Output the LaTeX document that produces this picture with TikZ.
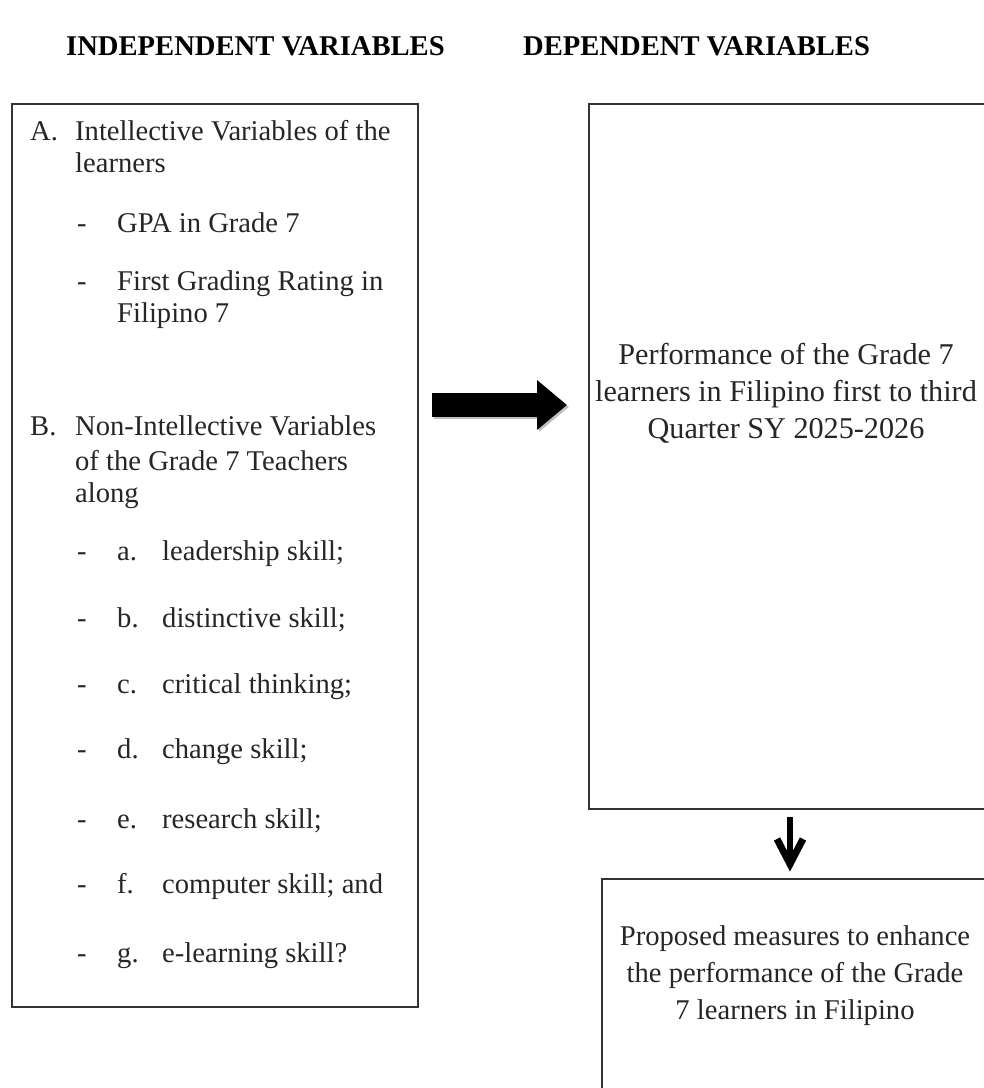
\documentclass[tikz,border=0pt]{standalone}
\usepackage{fontspec}
\setmainfont{Liberation Serif}
\usetikzlibrary{arrows.meta,calc}
\tikzset{
  box/.style={draw=black!80, line width=1.8bp, inner sep=0pt},
  txt/.style={anchor=base west, inner sep=0pt, font=\fontsize{28.6bp}{33bp}\selectfont, text=black!85},
  ctxt/.style={anchor=base, inner sep=0pt, font=\fontsize{28.6bp}{33bp}\selectfont, text=black!85},
  btxt/.style={anchor=base, inner sep=0pt, font=\fontsize{30.2bp}{35bp}\selectfont, text=black!85},
  head/.style={anchor=base west, inner sep=0pt, font=\bfseries\fontsize{28.6bp}{33bp}\selectfont},
  bigarrow/.style={line width=24bp, -{Triangle[length=30bp,width=48bp]}},
  shaft/.style={line width=6bp},
  chevron/.style={line width=7bp, miter limit=10}
}
\begin{document}
\begin{tikzpicture}[x=1bp,y=-1bp]
\clip (0,0) rectangle (984,1088);
\fill[white] (0,0) rectangle (984,1088);
% headers
\node[head] (hI) at (66,55) {INDEPENDENT VARIABLES};
\node[head] (hD) at (523,55) {DEPENDENT VARIABLES};
% boxes
\node[box, minimum width=406bp, minimum height=903bp] (indep) at (215,555.5) {};
\node[box, minimum width=411bp, minimum height=705bp] (perf) at (794.5,456.5) {};
\node[box, minimum width=398bp, minimum height=221bp] (prop) at (801,989.5) {};
% left box text
\node[txt] (Al) at (30,140) {A.};
\node[txt] (A1) at (75,140) {Intellective Variables of the};
\node[txt] (A2) at (75,172) {learners};
\node[txt] (d1) at (77,232) {-};
\node[txt] (g1) at (117,232) {GPA in Grade 7};
\node[txt] (d2) at (77,290) {-};
\node[txt] (g2) at (117,290) {First Grading Rating in};
\node[txt] (g3) at (117,322) {Filipino 7};
\node[txt] (Bl) at (30,435) {B.};
\node[txt] (B1) at (75,435) {Non-Intellective Variables};
\node[txt] (B2) at (75,470) {of the Grade 7 Teachers};
\node[txt] (B3) at (75,502) {along};
\foreach \y/\l/\t [count=\i] in {560/a./leadership skill;, 627/b./distinctive skill;, 693/c./critical thinking;, 758/d./change skill;, 828/e./research skill;, 893/f./computer skill; and, 962/g./e-learning skill?}{
  \node[txt] (bd\i) at (77,\y) {-};
  \node[txt] (bl\i) at (117,\y) {\l};
  \node[txt] (bt\i) at (162,\y) {\t};
}
% right box texts
\node[btxt] (p1) at (786,364) {Performance of the Grade 7};
\node[btxt] (p2) at (786,401) {learners in Filipino first to third};
\node[btxt] (p3) at (786,438) {Quarter SY 2025-2026};
\node[ctxt] (q1) at (795,945) {Proposed measures to enhance};
\node[ctxt] (q2) at (795,982) {the performance of the Grade};
\node[ctxt] (q3) at (795,1019) {7 learners in Filipino};
% big arrow
\coordinate (aS) at (432,405);
\coordinate (aE) at (567,405);
\coordinate (aS2) at (434,407);
\coordinate (aE2) at (569,407);
\draw[bigarrow, black!25] (aS2) -- (aE2);
\draw[bigarrow] (aS) -- (aE);
% down arrow
\coordinate (dS) at (790,817);
\coordinate (dE) at (790,864);
\draw[shaft] (dS) -- ($(dE)+(0,-2)$);
\draw[chevron] ($(dE)+(-13,-25)$) -- (dE) -- ($(dE)+(13,-25)$);
\end{tikzpicture}
\end{document}
